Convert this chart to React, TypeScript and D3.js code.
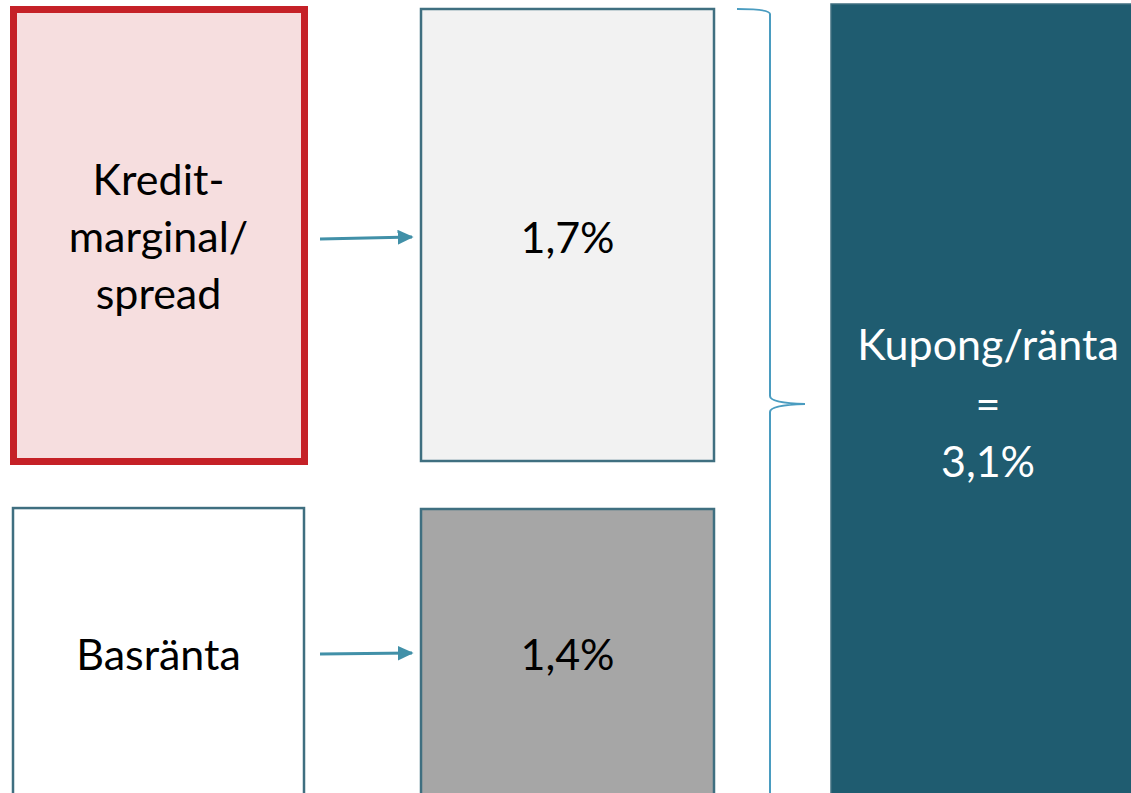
import React from "react";
import * as d3 from "d3";

const W = 1131;
const H = 793;

// Data
const leftLabels: string[][] = [["Kredit-", "marginal/", "spread"], ["Basränta"]];
const componentValues: number[] = [1.7, 1.4];
const totalLabel: string[] = ["Kupong/ränta", "="];
const totalValue: number = 3.1;

const fmt = (v: number) => d3.format(".1f")(v).replace(".", ",") + "%";

const FONT = "Lato, 'Open Sans', sans-serif";

export default function App() {
  const rows = d3.scaleBand<number>().domain([0, 1]).range([9, 961]).paddingInner(0.1);
  const cols = { left: [13, 304], mid: [421, 714], right: [831, 1160] };
  const rowY = (i: number) => rows(i)!;

  const leftStyles = [
    { fill: "#f6dedf", stroke: "#c52127", sw: 7 },
    { fill: "#ffffff", stroke: "#3f6f80", sw: 2.5 },
  ];
  const midFill = ["#f2f2f2", "#a6a6a6"];

  // brace path
  const bx = 770, top = 9, mid = 404, bot = 800, tipX = 805;
  const brace = d3.path();
  brace.moveTo(737, top);
  brace.quadraticCurveTo(bx, top, bx, top + 5);
  brace.lineTo(bx, mid - 8);
  brace.quadraticCurveTo(bx, mid - 1, tipX, mid);
  brace.quadraticCurveTo(bx, mid + 1, bx, mid + 8);
  brace.lineTo(bx, bot);

  const lineH = 57;
  const midX = (c: number[]) => (c[0] + c[1]) / 2;

  return (
    <svg width={W} height={H} style={{ position: "absolute", left: 0, top: 0, background: "#fff" }}>
      <defs>
        <marker id="ah" viewBox="0 0 10 10" refX="9" refY="5" markerWidth="16" markerHeight="15" markerUnits="userSpaceOnUse" orient="auto" preserveAspectRatio="none">
          <path d="M0,0 L10,5 L0,10 Z" fill="#4190a8" />
        </marker>
      </defs>
      {leftLabels.map((lines, i) => {
        const y0 = rowY(i);
        const st = leftStyles[i];
        return (
          <g key={"l" + i}>
            <rect x={cols.left[0] + (i === 0 ? 0.5 : 0)} y={y0 + (i === 0 ? 0.5 : -2)} width={cols.left[1] - cols.left[0]} height={i === 0 ? 452 : 400}
              fill={st.fill} stroke={st.stroke} strokeWidth={st.sw} />
            <text x={midX(cols.left)} textAnchor="middle" fontFamily={FONT} fontSize={43} fill="#000">
              {lines.map((t, k) => (
                <tspan key={k} x={midX(cols.left)} y={i === 0 ? 195 + k * lineH : 670}>{t}</tspan>
              ))}
            </text>
            <line x1={320} y1={i === 0 ? 239 : 654} x2={412} y2={i === 0 ? 237 : 653}
              stroke="#4190a8" strokeWidth={3} markerEnd="url(#ah)" />
            <rect x={cols.mid[0]} y={i === 0 ? 9 : 509} width={cols.mid[1] - cols.mid[0]} height={i === 0 ? 452 : 400}
              fill={midFill[i]} stroke="#3f6f80" strokeWidth={2.5} />
            <text x={midX(cols.mid)} y={i === 0 ? 253 : 670} textAnchor="middle" fontFamily={FONT} fontSize={43} fill="#000">
              {fmt(componentValues[i])}
            </text>
          </g>
        );
      })}
      <path d={brace.toString()} fill="none" stroke="#4a9cc0" strokeWidth={2} />
      <rect x={cols.right[0]} y={4} width={cols.right[1] - cols.right[0]} height={900} fill="#1f5c70" stroke="#3f6f80" strokeWidth={1.5} />
      <text textAnchor="middle" fontFamily={FONT} fontSize={43} fill="#fff">
        {[...totalLabel, fmt(totalValue)].map((t, k) => (
          <tspan key={k} x={988} y={360 + k * 58.5}>{t}</tspan>
        ))}
      </text>
    </svg>
  );
}
